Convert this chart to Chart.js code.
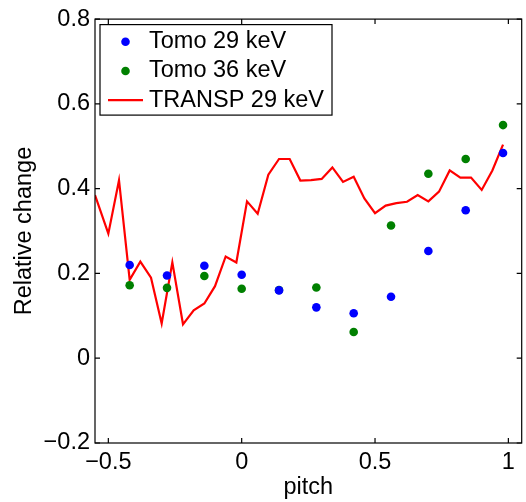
<!DOCTYPE html>
<html>
<head>
<meta charset="utf-8">
<script src="https://cdn.jsdelivr.net/npm/chart.js@4.4.0/dist/chart.umd.min.js"></script>
<style>
  html, body { margin: 0; padding: 0; background: #fff; }
  #wrap { width: 526px; height: 502px; }
</style>
</head>
<body>
<div id="wrap"><canvas id="c" width="526" height="502"></canvas></div>
<script>
// tomography points
const pitchTomo = [-0.42, -0.28, -0.14, 0, 0.14, 0.28, 0.42, 0.56, 0.70, 0.84, 0.98];
const tomo29 = [0.220, 0.195, 0.218, 0.197, 0.160, 0.120, 0.106, 0.145, 0.253, 0.349, 0.484];
const tomo36 = [0.172, 0.166, 0.194, 0.164, 0.161, 0.167, 0.062, 0.313, 0.435, 0.470, 0.550];

// TRANSP curve
const pitchTransp = [-0.55, -0.50, -0.46, -0.42, -0.38, -0.34, -0.30, -0.26, -0.22, -0.18,
    -0.14, -0.10, -0.06, -0.02, 0.02, 0.06, 0.10, 0.14, 0.18, 0.22,
    0.26, 0.30, 0.34, 0.38, 0.42, 0.46, 0.50, 0.54, 0.58, 0.62,
    0.66, 0.70, 0.74, 0.78, 0.82, 0.86, 0.90, 0.94, 0.98];
const transp29 = [0.385, 0.294, 0.420, 0.185, 0.228, 0.190, 0.082, 0.226, 0.080, 0.113,
    0.129, 0.170, 0.240, 0.226, 0.370, 0.341, 0.433, 0.470, 0.470, 0.419,
    0.420, 0.423, 0.450, 0.416, 0.428, 0.377, 0.342, 0.360, 0.366, 0.369,
    0.385, 0.370, 0.393, 0.443, 0.426, 0.426, 0.397, 0.443, 0.504];

const xTicks = [-0.5, 0, 0.5, 1];
const xTickLabels = ['\u22120.5', '0', '0.5', '1'];
const yTicks = [-0.2, 0, 0.2, 0.4, 0.6, 0.8];
const yTickLabels = ['\u22120.2', '0', '0.2', '0.4', '0.6', '0.8'];

const FONT = "'Liberation Sans', Arial, sans-serif";
const FS = 23.5;

function toPoints(xs, ys) {
    return xs.map(function(x, i) { return {x: x, y: ys[i]}; });
}

// box round the axes with inward ticks on all four sides (matlab style)
const framePlugin = {
    id: 'frame',
    afterDatasetsDraw(chart) {
        const {ctx, chartArea: a, scales} = chart;
        const len = 5;
        ctx.save();
        ctx.strokeStyle = '#000';
        ctx.lineWidth = 1.2;
        ctx.strokeRect(a.left, a.top, a.right - a.left, a.bottom - a.top);
        ctx.beginPath();
        scales.x.ticks.forEach(function(t) {
            const px = scales.x.getPixelForValue(t.value);
            ctx.moveTo(px, a.bottom); ctx.lineTo(px, a.bottom - len);
            ctx.moveTo(px, a.top); ctx.lineTo(px, a.top + len);
        });
        scales.y.ticks.forEach(function(t) {
            const py = scales.y.getPixelForValue(t.value);
            ctx.moveTo(a.left, py); ctx.lineTo(a.left + len, py);
            ctx.moveTo(a.right, py); ctx.lineTo(a.right - len, py);
        });
        ctx.stroke();
        ctx.restore();
    }
};

// legend box inside the top-left corner
const boxLegend = {
    id: 'boxLegend',
    afterDraw(chart) {
        const {ctx, chartArea: a} = chart;
        const left = a.left + 5, top = a.top + 5.5;
        const w = 232, h = 90.5, rowH = 29.2;
        ctx.save();
        ctx.fillStyle = '#fff';
        ctx.fillRect(left, top, w, h);
        ctx.strokeStyle = '#000';
        ctx.lineWidth = 1.2;
        ctx.strokeRect(left, top, w, h);
        ctx.font = FS + 'px ' + FONT;
        ctx.textBaseline = 'middle';
        ctx.textAlign = 'left';
        chart.data.datasets.forEach(function(ds, i) {
            const cy = top + 17.2 + i * rowH;
            if (ds.showLine) {
                ctx.strokeStyle = ds.borderColor;
                ctx.lineWidth = ds.borderWidth;
                ctx.beginPath();
                ctx.moveTo(left + 8, cy);
                ctx.lineTo(left + 43, cy);
                ctx.stroke();
            } else {
                ctx.fillStyle = ds.backgroundColor;
                ctx.beginPath();
                ctx.arc(left + 25.5, cy, ds.pointRadius, 0, Math.PI * 2);
                ctx.fill();
            }
            ctx.fillStyle = '#000';
            ctx.fillText(ds.label, left + 49, cy);
        });
        ctx.restore();
    }
};

new Chart(document.getElementById('c'), {
    type: 'scatter',
    data: {
        datasets: [
            {
                label: 'Tomo 29 keV',
                data: toPoints(pitchTomo, tomo29),
                backgroundColor: '#0000ff',
                borderColor: '#0000ff',
                pointRadius: 4.3,
                pointBorderWidth: 0,
                showLine: false
            },
            {
                label: 'Tomo 36 keV',
                data: toPoints(pitchTomo, tomo36),
                backgroundColor: '#008000',
                borderColor: '#008000',
                pointRadius: 4.3,
                pointBorderWidth: 0,
                showLine: false
            },
            {
                label: 'TRANSP 29 keV',
                data: toPoints(pitchTransp, transp29),
                borderColor: '#ff0000',
                backgroundColor: '#ff0000',
                borderWidth: 2.2,
                pointRadius: 0,
                showLine: true,
                tension: 0
            }
        ]
    },
    options: {
        responsive: false,
        animation: false,
        layout: { padding: { top: 14, right: 3, left: 0, bottom: 0 } },
        plugins: {
            legend: { display: false },
            tooltip: { enabled: false }
        },
        scales: {
            x: {
                type: 'linear',
                min: -0.55,
                max: 1.05,
                grid: { display: false, drawTicks: false },
                border: { display: false },
                afterBuildTicks: function(scale) {
                    scale.ticks = xTicks.map(function(v) { return {value: v}; });
                },
                afterFit: function(scale) { scale.height = 59; },
                ticks: {
                    padding: 5,
                    color: '#000',
                    font: { family: FONT, size: FS },
                    callback: function(value, index) { return xTickLabels[index]; }
                },
                title: {
                    display: true,
                    text: 'pitch',
                    color: '#000',
                    font: { family: FONT, size: FS },
                    padding: { top: 0, bottom: 0 }
                }
            },
            y: {
                type: 'linear',
                min: -0.2,
                max: 0.8,
                grid: { display: false, drawTicks: false },
                border: { display: false },
                afterBuildTicks: function(scale) {
                    scale.ticks = yTicks.map(function(v) { return {value: v}; });
                },
                afterFit: function(scale) { scale.width = 95; },
                ticks: {
                    padding: 5,
                    color: '#000',
                    font: { family: FONT, size: FS },
                    callback: function(value, index) { return yTickLabels[index]; }
                },
                title: {
                    display: true,
                    text: 'Relative change',
                    color: '#000',
                    font: { family: FONT, size: FS },
                    padding: { top: 10, bottom: 0 }
                }
            }
        }
    },
    plugins: [framePlugin, boxLegend]
});
</script>
</body>
</html>
